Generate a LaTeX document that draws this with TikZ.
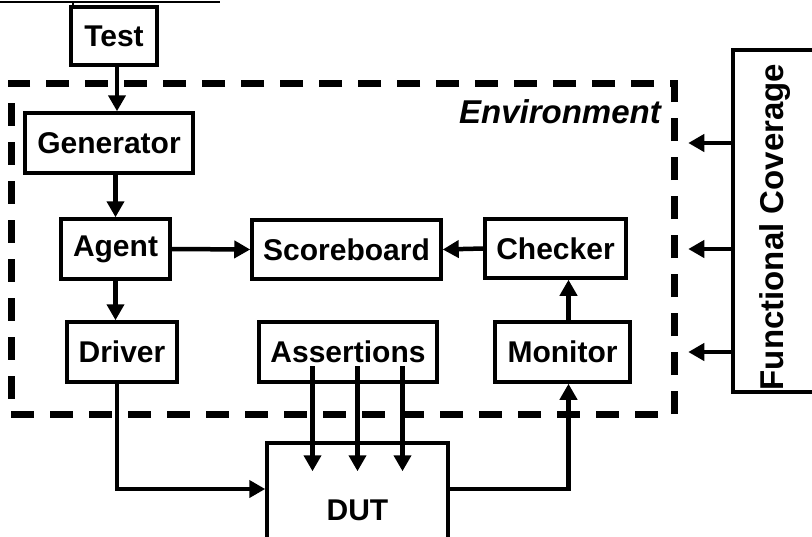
\documentclass[tikz,border=0pt]{standalone}
\usepackage{fontspec}
\setmainfont{Liberation Sans}
\usetikzlibrary{arrows.meta,calc}
\newcommand{\lbl}{\bfseries\fontsize{30}{35}\selectfont}
\newcommand{\lblit}{\bfseries\itshape\fontsize{33}{38}\selectfont}
\newcommand{\fclbl}{\bfseries\fontsize{33}{38}\selectfont}
\begin{document}
\begin{tikzpicture}[x=1pt,y=-1pt,
  box/.style={draw,line width=3.5pt,inner sep=0pt,font=\lbl},
  arr/.style={line width=4.5pt,-{Triangle[length=16pt,width=17pt]}},
  envbox/.style={draw,line width=7pt,dash pattern=on 23pt off 16pt,inner sep=0pt},
]
\fill[white] (0,0) rectangle (812,536);
\useasboundingbox (0,0) rectangle (812,536);
% cropped line at top
\draw[line width=1.3pt] (0,2) -- (220,2);
\draw[line width=2pt] (73,2) -- (73,5);
% environment
\node[envbox,minimum width=663pt,minimum height=331pt] (env) at (342.5,248.5) {};
\node[font=\lblit,anchor=base east,inner sep=0pt] (envlbl) at (661,123) {Environment};
% boxes
\node[box,minimum width=86pt,minimum height=58pt] (test) at (114,36) {Test};
\node[box,minimum width=168pt,minimum height=60pt] (gen) at (109,143) {Generator};
\node[box,minimum width=109pt,minimum height=60pt] (agent) at (115.5,249) {Agent};
\node[box,minimum width=189pt,minimum height=59pt] (score) at (346.5,249.5) {Scoreboard};
\node[box,minimum width=141pt,minimum height=59pt] (check) at (555.5,248.5) {Checker};
\node[box,minimum width=110pt,minimum height=60pt] (driver) at (122,352) {Driver};
\node[box,minimum width=178pt,minimum height=60pt] (assert) at (348,352) {Assertions};
\node[box,minimum width=135pt,minimum height=60pt] (monitor) at (562.5,352) {Monitor};
\node[box,minimum width=181pt,minimum height=134pt] (dut) at (357.5,510) {DUT};
\node[draw,line width=3.5pt,inner sep=0pt,rotate=90,minimum width=342pt,minimum height=84pt,font=\fclbl] (fc) at (775,221) {\raisebox{-3pt}{Functional Coverage}\hspace*{12pt}};
% connectors
\draw[arr] ([xshift=3pt]test.south) -- ([xshift=3pt]test.south |- gen.north);
\draw[arr] (agent.north |- gen.south) -- (agent.north);
\draw[arr] (agent.south) -- (agent.south |- driver.north);
\draw[arr] (agent.east) -- (score.west);
\draw[arr] (check.west) -- (score.east);
\draw[arr] ([xshift=6pt]monitor.north) -- ([xshift=6pt]monitor.north |- check.south);
\draw[arr] ([xshift=-5pt]driver.south) |- ([yshift=21pt]dut.west);
\draw[arr] ([yshift=21pt]dut.east) -| ([xshift=6pt]monitor.south);
\draw[arr] ($(dut.north)+(-45,-75)$) -- ($(dut.north)+(-45,30)$);
\draw[arr] ($(dut.north)+(0,-75)$) -- ($(dut.north)+(0,30)$);
\draw[arr] ($(dut.north)+(45,-75)$) -- ($(dut.north)+(45,30)$);
\draw[arr] (fc.north |- gen.center) -- ++(-43,0);
\draw[arr] (fc.north |- agent.center) -- ++(-43,0);
\draw[arr] (fc.north |- monitor.center) -- ++(-43,0);
\end{tikzpicture}
\end{document}
